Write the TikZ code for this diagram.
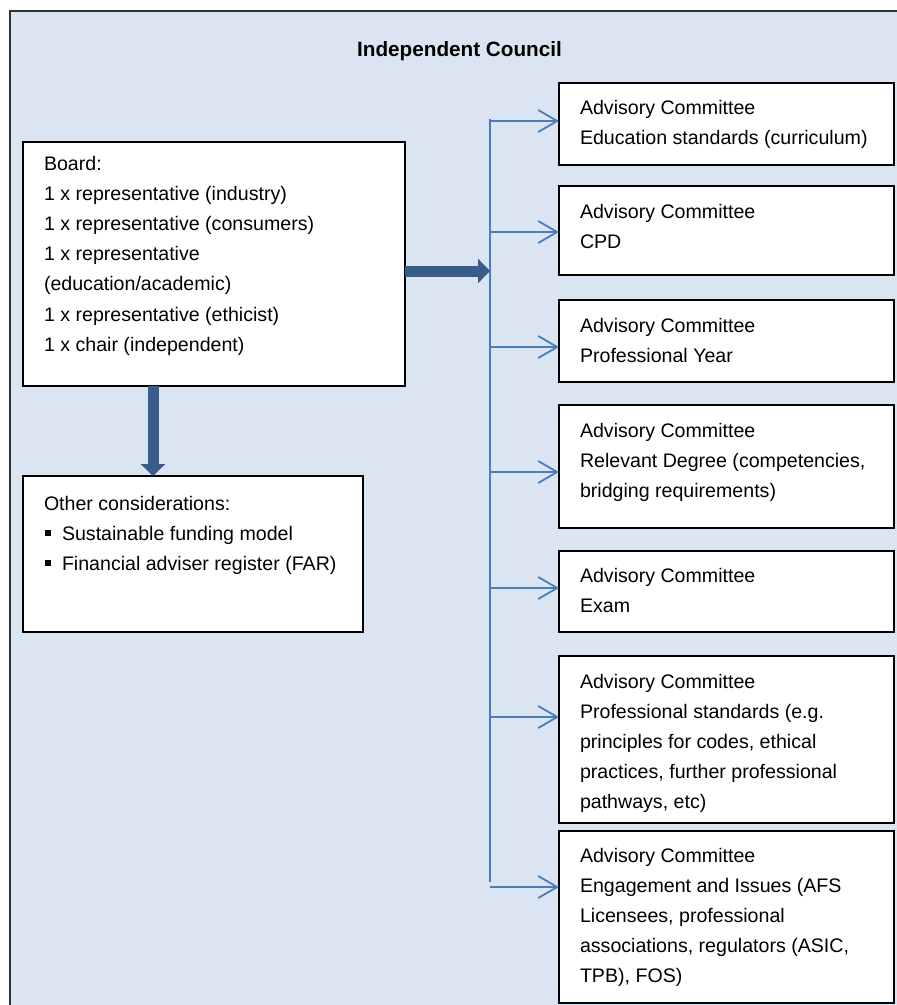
\documentclass[tikz,border=0pt]{standalone}
\usepackage{fontspec}
\setmainfont{Liberation Sans}
\usetikzlibrary{arrows.meta,calc}
\definecolor{bgblue}{HTML}{DBE5F1}
\definecolor{darrow}{HTML}{385D8A}
\definecolor{lblue}{HTML}{4A7EBB}
\begin{document}
\begin{tikzpicture}[x=1pt,y=-1pt,
  box/.style={draw=black, line width=1.6pt, fill=white, inner sep=0pt, outer sep=0pt, anchor=north west},
  txt/.style={anchor=base west, inner sep=0pt, outer sep=0pt, font=\fontsize{19.6}{30.2}\selectfont},
  bigarrow/.style={draw=darrow, line width=11pt, -{Triangle[width=24pt,length=12pt]}},
  branch/.style={draw=lblue, line width=1.8pt, -{Straight Barb[length=19pt,width=22pt]}},
  busline/.style={draw=lblue, line width=1.8pt}]
\useasboundingbox (0,0) rectangle (897,1005);
\clip (0,0) rectangle (897,1005);
% outer frame
\node[draw=black!80, line width=1.8pt, fill=bgblue, anchor=north west, minimum width=910pt, minimum height=1020pt, inner sep=0pt] (council) at (9,10) {};
\node[font=\bfseries\fontsize{20.7}{25}\selectfont, anchor=base, inner sep=0pt] (title) at (459.5,56.5) {Independent Council};
% board
\node[box, minimum width=382pt, minimum height=244pt] (board) at (23,142) {};
\node[txt] (boardt) at (44,170) {\parbox[t]{350pt}{Board:\\1 x representative (industry)\\1 x representative (consumers)\\1 x representative\\(education/academic)\\1 x representative (ethicist)\\1 x chair (independent)}};
% other considerations
\node[box, minimum width=340pt, minimum height=156pt] (other) at (23,476) {};
\node[txt] (othert) at (44,510) {\parbox[t]{310pt}{Other considerations:\\
\makebox[18pt][l]{\hspace{1.5pt}\rule[4.5pt]{5.5pt}{5.5pt}}Sustainable funding model\\
\makebox[18pt][l]{\hspace{1.5pt}\rule[4.5pt]{5.5pt}{5.5pt}}Financial adviser register (FAR)}};
% committee boxes
\foreach \n/\tp/\h/\b/\txt in {
  1/83/82/114/{Advisory Committee\\Education standards (curriculum)},
  2/186/89/218/{Advisory Committee\\CPD},
  3/300/82/332/{Advisory Committee\\Professional Year},
  4/405/123/437/{Advisory Committee\\Relevant Degree (competencies,\\bridging requirements)},
  5/551/81/582/{Advisory Committee\\Exam},
  6/656/167/688/{Advisory Committee\\Professional standards (e.g.\\principles for codes, ethical\\practices, further professional\\pathways, etc)},
  7/831/172/862/{Advisory Committee\\Engagement and Issues (AFS\\Licensees, professional\\associations, regulators (ASIC,\\TPB), FOS)}}{
  \node[box, minimum width=335pt, minimum height=\h pt] (c\n) at (559,\tp) {};
  \node[txt] (c\n t) at (580,\b) {\parbox[t]{310pt}{\txt}};
}
% bus line
\coordinate (bustop) at (490,119);
\coordinate (busbot) at (490,882);
\draw[busline] (bustop) -- (busbot);
\foreach \n/\y in {1/121,2/232,3/347,4/472,5/588,6/717,7/887}{
  \coordinate (b\n) at (490,\y);
  \draw[branch] (b\n) -- (c\n.west |- b\n);
}
% thick arrows
\coordinate (hub) at (490,271);
\draw[bigarrow] (board.east |- hub) -- (hub);
\coordinate (dn) at (153,0);
\draw[bigarrow] (board.south -| dn) -- (other.north -| dn);
\end{tikzpicture}
\end{document}
